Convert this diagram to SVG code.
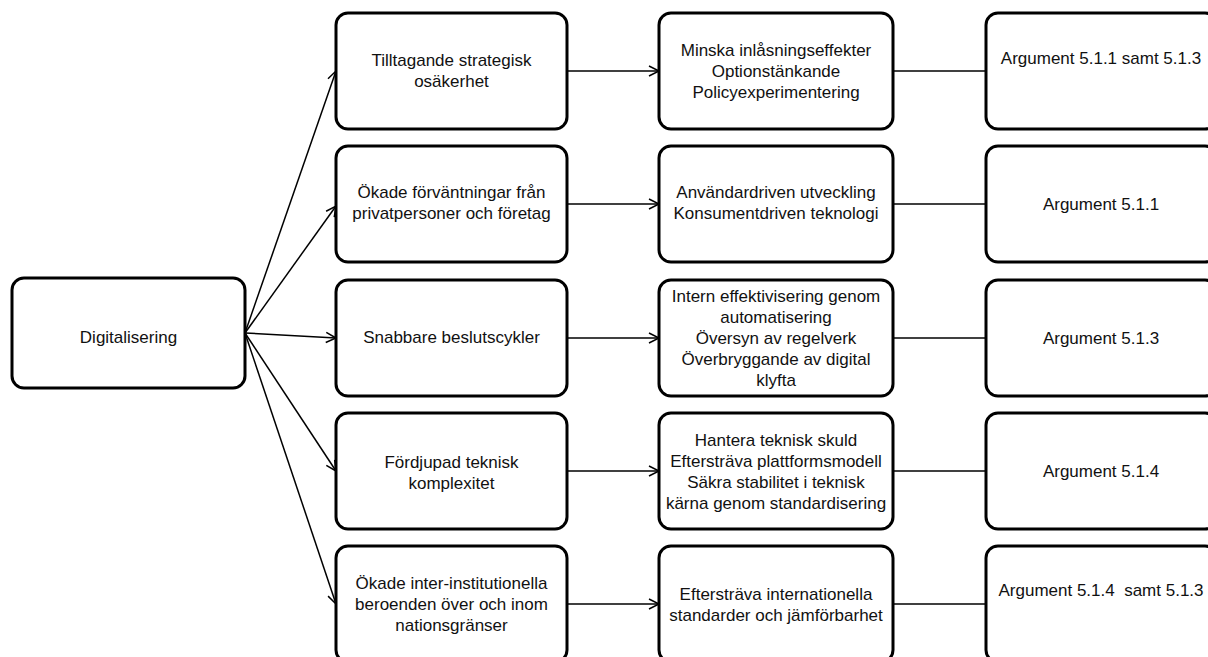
<svg xmlns="http://www.w3.org/2000/svg" width="1208" height="657" viewBox="0 0 1208 657">
<style>
.box{fill:#fff;stroke:#000;stroke-width:3}
.t{font-family:"Liberation Sans",Arial,sans-serif;font-size:17px;fill:#111;text-anchor:middle}
.c{stroke:#000;stroke-width:1.5;fill:none}
.a{marker-end:url(#arr)}
</style>
<defs>
<marker id="arr" markerUnits="userSpaceOnUse" markerWidth="14" markerHeight="14" refX="11" refY="6" orient="auto" viewBox="0 0 14 12">
<path d="M1,1 L11,6 L1,11" fill="none" stroke="#000" stroke-width="1.5"/>
</marker>
</defs>
<rect width="1208" height="657" fill="#fff"/>
<g id="connectors">
<line class="c a" x1="245" y1="333" x2="336" y2="71"/>
<line class="c a" x1="245" y1="333" x2="336" y2="206"/>
<line class="c a" x1="245" y1="333" x2="336" y2="338"/>
<line class="c a" x1="245" y1="333" x2="336" y2="471"/>
<line class="c a" x1="245" y1="333" x2="336" y2="604"/>
<line class="c a" x1="567" y1="71" x2="659" y2="71"/>
<line class="c a" x1="567" y1="204" x2="659" y2="204"/>
<line class="c a" x1="567" y1="338" x2="659" y2="338"/>
<line class="c a" x1="567" y1="471" x2="659" y2="471"/>
<line class="c a" x1="567" y1="604" x2="659" y2="604"/>
<line class="c" x1="893" y1="71" x2="986" y2="71"/>
<line class="c" x1="893" y1="204" x2="986" y2="204"/>
<line class="c" x1="893" y1="338" x2="986" y2="338"/>
<line class="c" x1="893" y1="471" x2="986" y2="471"/>
<line class="c" x1="893" y1="604" x2="986" y2="604"/>
</g>
<g id="digitalisering">
<rect class="box" x="12" y="278" width="233" height="110" rx="12"/>
<text class="t" x="128.5" y="343">Digitalisering</text>
</g>
<g id="b1">
<rect class="box" x="336" y="13" width="231" height="116" rx="12"/>
<text class="t" x="451.5" y="66">Tilltagande strategisk</text>
<text class="t" x="451.5" y="87">osäkerhet</text>
</g>
<g id="b2">
<rect class="box" x="336" y="146" width="231" height="116" rx="12"/>
<text class="t" x="451.5" y="198">Ökade förväntningar från</text>
<text class="t" x="451.5" y="219">privatpersoner och företag</text>
</g>
<g id="b3">
<rect class="box" x="336" y="280" width="231" height="116" rx="12"/>
<text class="t" x="451.5" y="343">Snabbare beslutscykler</text>
</g>
<g id="b4">
<rect class="box" x="336" y="413" width="231" height="116" rx="12"/>
<text class="t" x="451.5" y="468">Fördjupad teknisk</text>
<text class="t" x="451.5" y="489">komplexitet</text>
</g>
<g id="b5">
<rect class="box" x="336" y="546" width="231" height="116" rx="12"/>
<text class="t" x="451.5" y="589">Ökade inter-institutionella</text>
<text class="t" x="451.5" y="610">beroenden över och inom</text>
<text class="t" x="451.5" y="631">nationsgränser</text>
</g>
<g id="c1">
<rect class="box" x="659" y="13" width="234" height="116" rx="12"/>
<text class="t" x="776" y="56">Minska inlåsningseffekter</text>
<text class="t" x="776" y="77">Optionstänkande</text>
<text class="t" x="776" y="98">Policyexperimentering</text>
</g>
<g id="c2">
<rect class="box" x="659" y="146" width="234" height="116" rx="12"/>
<text class="t" x="776" y="198">Användardriven utveckling</text>
<text class="t" x="776" y="219">Konsumentdriven teknologi</text>
</g>
<g id="c3">
<rect class="box" x="659" y="280" width="234" height="116" rx="12"/>
<text class="t" x="776" y="302">Intern effektivisering genom</text>
<text class="t" x="776" y="323">automatisering</text>
<text class="t" x="776" y="344">Översyn av regelverk</text>
<text class="t" x="776" y="365">Överbryggande av digital</text>
<text class="t" x="776" y="386">klyfta</text>
</g>
<g id="c4">
<rect class="box" x="659" y="413" width="234" height="116" rx="12"/>
<text class="t" x="776" y="446">Hantera teknisk skuld</text>
<text class="t" x="776" y="467">Eftersträva plattformsmodell</text>
<text class="t" x="776" y="488">Säkra stabilitet i teknisk</text>
<text class="t" x="776" y="509">kärna genom standardisering</text>
</g>
<g id="c5">
<rect class="box" x="659" y="546" width="234" height="116" rx="12"/>
<text class="t" x="776" y="600">Eftersträva internationella</text>
<text class="t" x="776" y="621">standarder och jämförbarhet</text>
</g>
<g id="d1">
<rect class="box" x="986" y="13" width="231" height="116" rx="12"/>
<text class="t" x="1101" y="64">Argument 5.1.1 samt 5.1.3</text>
</g>
<g id="d2">
<rect class="box" x="986" y="146" width="231" height="116" rx="12"/>
<text class="t" x="1101" y="210">Argument 5.1.1</text>
</g>
<g id="d3">
<rect class="box" x="986" y="280" width="231" height="116" rx="12"/>
<text class="t" x="1101" y="344">Argument 5.1.3</text>
</g>
<g id="d4">
<rect class="box" x="986" y="413" width="231" height="116" rx="12"/>
<text class="t" x="1101" y="477">Argument 5.1.4</text>
</g>
<g id="d5">
<rect class="box" x="986" y="546" width="231" height="116" rx="12"/>
<text class="t" x="1101" y="596" xml:space="preserve">Argument 5.1.4  samt 5.1.3</text>
</g>
</svg>
